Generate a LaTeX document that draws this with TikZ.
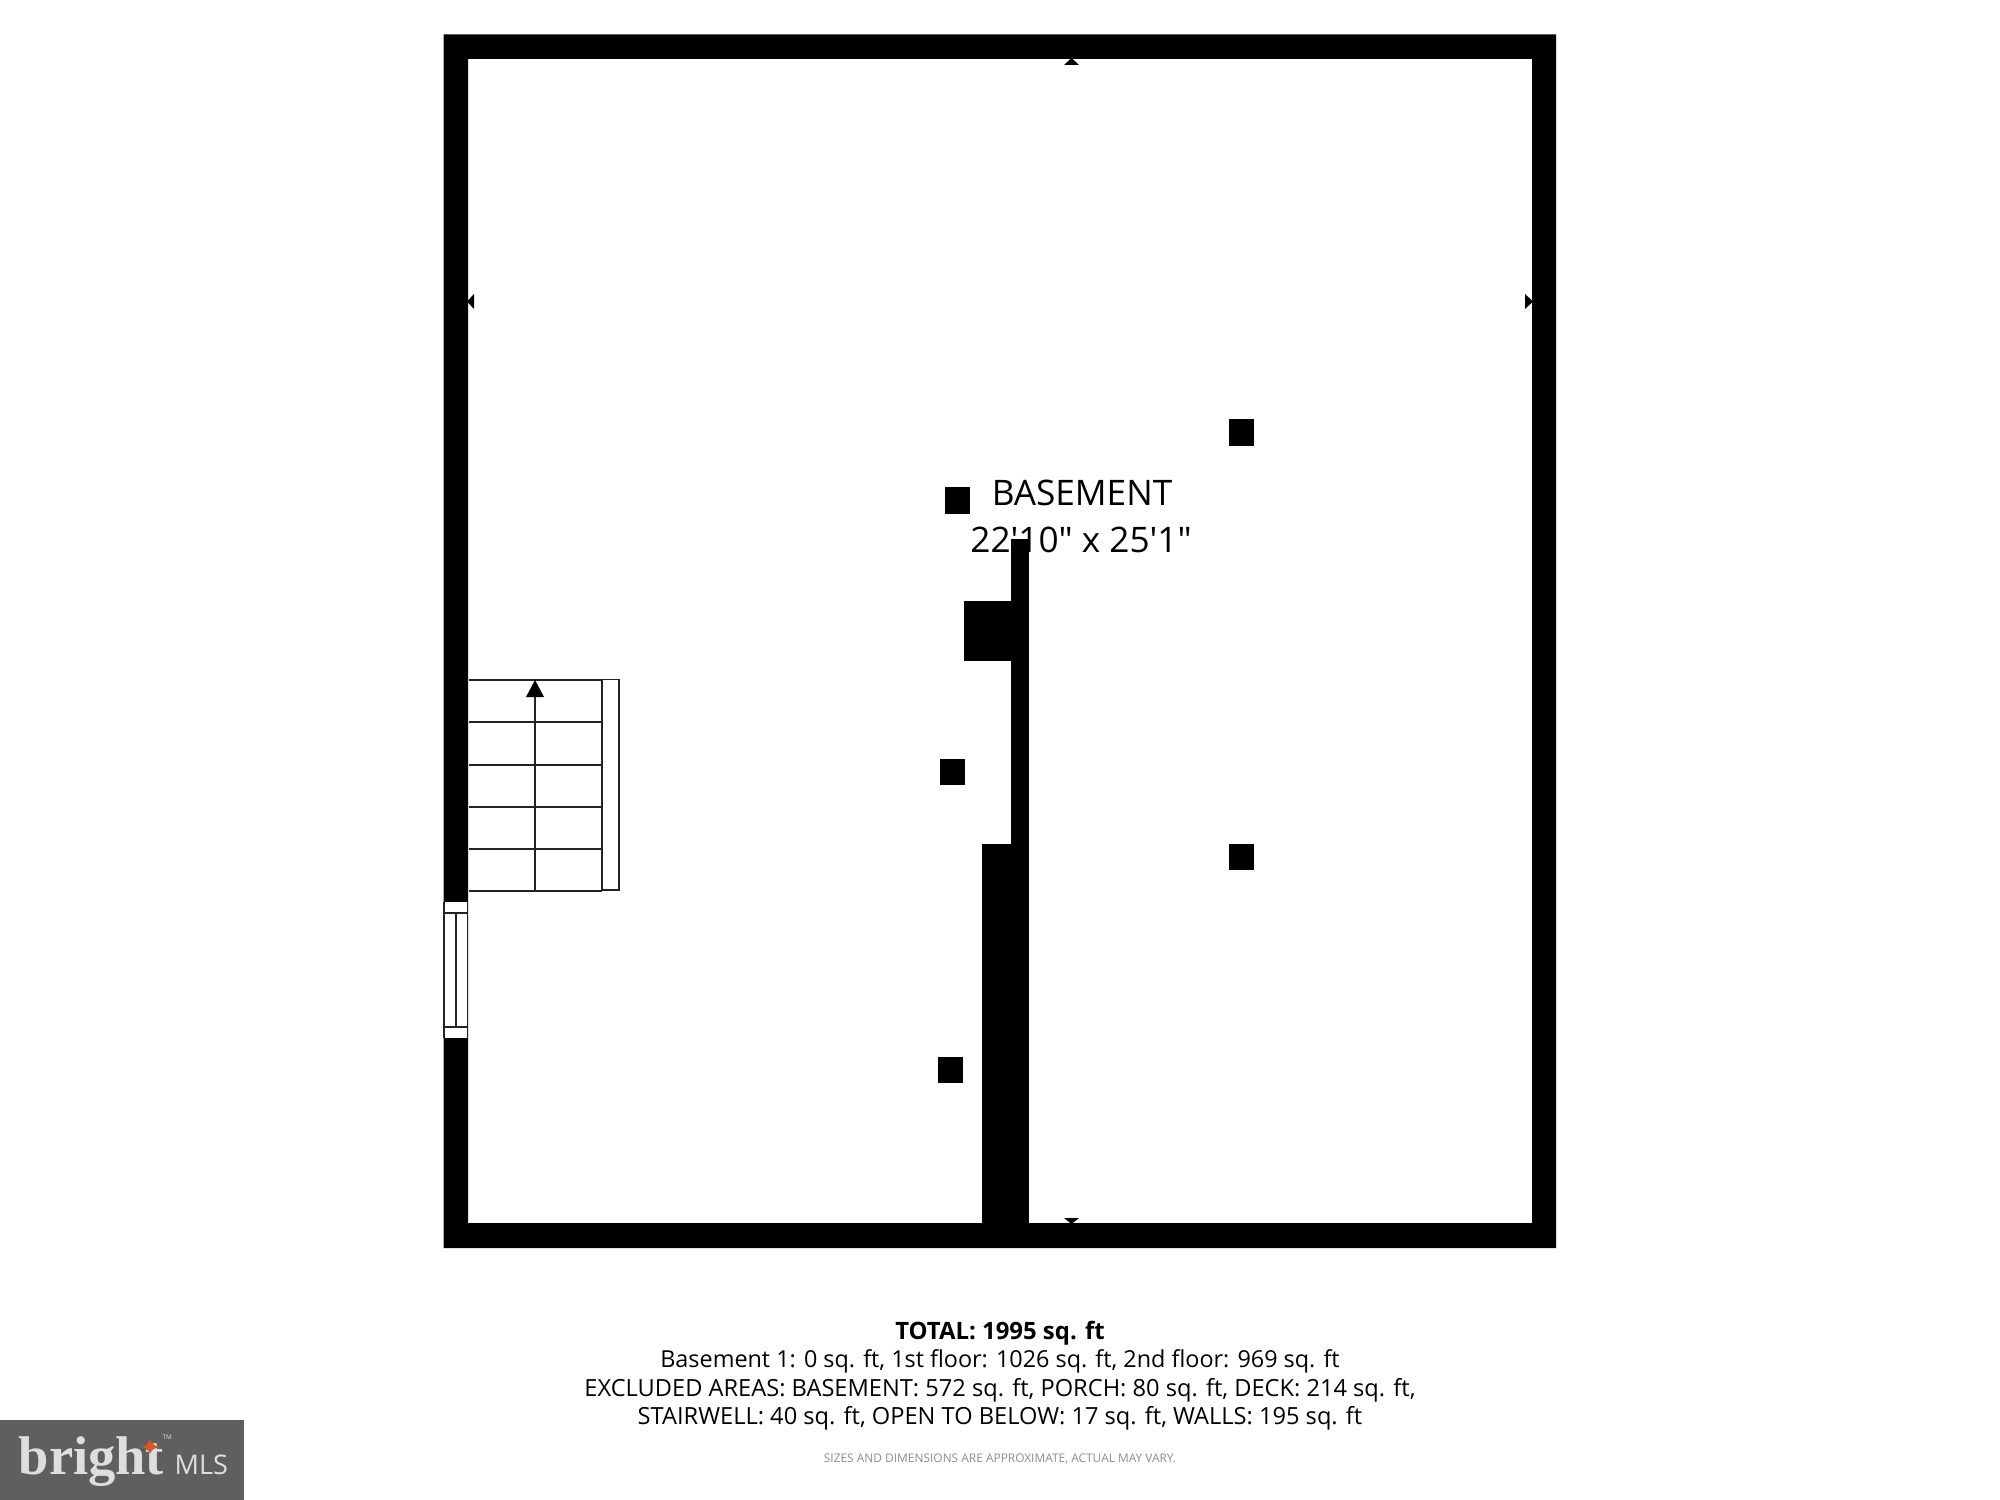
\documentclass[tikz,border=0pt]{standalone}
\usepackage{fontspec}
\usepackage{xcolor}
\usepackage{tikz}
\usetikzlibrary{positioning}
\newfontfamily\plansans{Open Sans}
\newfontfamily\logoserif{Liberation Serif}
\definecolor{logogrey}{HTML}{5F5F5F}
\definecolor{logotext}{HTML}{DEDEDE}
\definecolor{logostar}{HTML}{D9552B}
\definecolor{planline}{HTML}{222222}
\tikzset{
    wall/.style={fill=black},
    thinline/.style={draw=planline, line width=0.4pt},
    footer/.style={anchor=base, inner sep=0pt, font=\plansans\fontsize{6.72}{8}\selectfont},
    roomlabel/.style={anchor=base, inner sep=0pt, font=\plansans\fontsize{10}{12}\selectfont}
}

\begin{document}
\begin{tikzpicture}[x=0.01cm, y=-0.01cm]
        \useasboundingbox (0,0) rectangle (2000,1500);

        % Room label
        \node[roomlabel] (room_name) at (1082,505) {BASEMENT};
        \node[roomlabel] (room_size) at (1081,552) {22'10" x 25'1"};

        % Outer walls
        \fill[wall, even odd rule] (443.5,34.5) rectangle (1556,1248) (468,59) rectangle (1532,1223);

        % Inner wall
        \fill[wall] (1011,539) rectangle (1028.5,1248);
        \fill[wall] (964,601) rectangle (1011,661);
        \fill[wall] (982,844) rectangle (1011,1248);

        % Posts
        \fill[wall] (945,487) rectangle (970,514);
        \fill[wall] (1229,419) rectangle (1254,446);
        \fill[wall] (940,759) rectangle (965,785);
        \fill[wall] (1229,844) rectangle (1254,870);
        \fill[wall] (938,1057) rectangle (963,1083);

        % Door marks
        \fill[wall] (1064,65) -- (1071.5,58) -- (1079,65) -- cycle;
        \fill[wall] (1064,1218) -- (1071.5,1224) -- (1079,1218) -- cycle;
        \fill[wall] (474,294) -- (467,301.5) -- (474,309) -- cycle;
        \fill[wall] (1525,294) -- (1533,301.5) -- (1525,309) -- cycle;

        % Stairs
        \draw[thinline] (468.5,680) -- (602,680);
        \draw[thinline] (468.5,722) -- (602,722);
        \draw[thinline] (468.5,765) -- (602,765);
        \draw[thinline] (468.5,807) -- (602,807);
        \draw[thinline] (468.5,849) -- (602,849);
        \draw[thinline] (468.5,891) -- (602,891);
        \draw[thinline] (535,891) -- (535,690);
        \fill[wall] (526,697) -- (535,680) -- (544,697) -- cycle;
        \draw[thinline, fill=white] (602,679.5) rectangle (619,890);
        \draw[thinline] (602.5,680) -- (602.5,891);

        % Window
        \fill[white] (444,902) rectangle (468,1038);
        \draw[thinline] (444,902) -- (444,1038);
        \draw[thinline] (467.5,902) -- (467.5,1038);
        \draw[thinline] (444,913) -- (468,913);
        \draw[thinline] (444,1027) -- (468,1027);
        \draw[thinline] (456,913) -- (456,1027);

        % Totals
        \node[footer, font=\plansans\bfseries\fontsize{6.8}{8}\selectfont] (total) at (1000,1339) {TOTAL: 1995 sq. ft};
        \node[footer, font=\plansans\fontsize{6.65}{8}\selectfont] (floors) at (1000,1367.5) {Basement 1: 0 sq. ft, 1st floor: 1026 sq. ft, 2nd floor: 969 sq. ft};
        \node[footer] (excluded) at (1000,1396) {EXCLUDED AREAS: BASEMENT: 572 sq. ft, PORCH: 80 sq. ft, DECK: 214 sq. ft,};
        \node[footer] (stairwell) at (1000,1424.5) {STAIRWELL: 40 sq. ft, OPEN TO BELOW: 17 sq. ft, WALLS: 195 sq. ft};
        \node[anchor=base, inner sep=0pt, text=black!45, font=\plansans\fontsize{3.39}{4}\selectfont] (disclaimer) at (1000,1462) {SIZES AND DIMENSIONS ARE APPROXIMATE, ACTUAL MAY VARY.};

        % Logo
        \fill[logogrey] (0,1420) rectangle (244,1500);
        \node[anchor=base west, inner sep=0pt, text=logotext, font=\logoserif\bfseries\fontsize{15.5}{16}\selectfont] (logo_name) at (18,1474) {bright};
        \node[anchor=base west, inner sep=0pt, text=logotext, font=\plansans\fontsize{7.7}{8}\selectfont] (logo_mls) at (174,1474) {MLS};
        \node[anchor=base west, inner sep=0pt, text=logotext, font=\plansans\fontsize{1.8}{3}\selectfont] (logo_tm) at (162,1439) {TM};
        \fill[logostar] (150,1439) .. controls (151,1443) and (154,1446) .. (160,1447) .. controls (154,1448) and (151,1450) .. (150,1454) .. controls (149,1450) and (146,1448) .. (142,1447) .. controls (146,1446) and (149,1443) .. (150,1439) -- cycle;

    \end{tikzpicture}
\end{document}
